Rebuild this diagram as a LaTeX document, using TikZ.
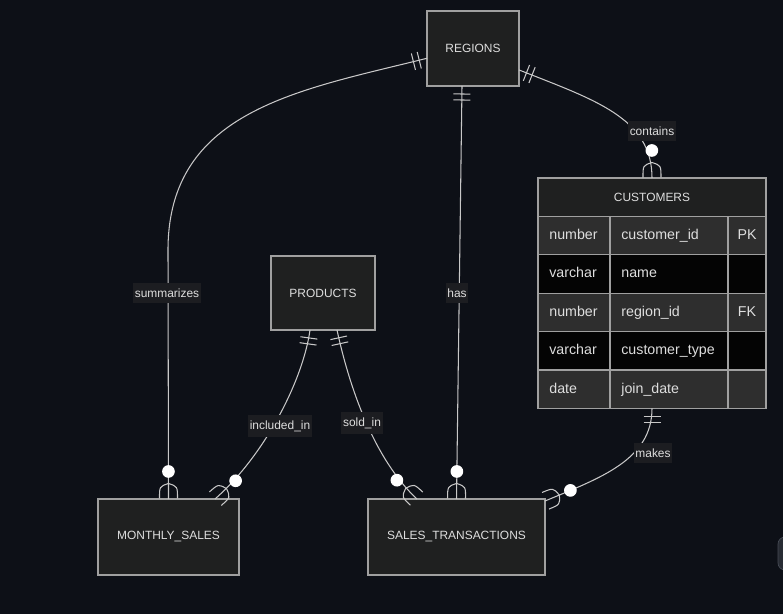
\documentclass[tikz,border=0pt]{standalone}
\usepackage{fontspec}
\setmainfont{Liberation Sans}
\usepackage{tikz}
\usetikzlibrary{calc,positioning,decorations.markings}
\newcommand{\pxu}{0.02cm}
\definecolor{bgdark}{RGB}{13,16,23}
\definecolor{boxfill}{RGB}{31,32,32}
\definecolor{boxline}{RGB}{160,160,160}
\definecolor{relline}{RGB}{200,200,200}
\definecolor{txt}{RGB}{222,222,222}
\definecolor{lblbg}{RGB}{28,29,33}
\definecolor{rowodd}{RGB}{46,46,46}
\definecolor{roweven}{RGB}{4,4,4}
\tikzstyle{entity}   = [draw=boxline, fill=boxfill, text=txt, line width=0.6pt, outer sep=0pt, font=\fontsize{6.8}{8}\selectfont]
\tikzstyle{rowbox}   = [draw=boxline, line width=0.6pt, outer sep=0pt, minimum width=228*\pxu, minimum height=38.4*\pxu]
\tikzstyle{cell}     = [text=txt, inner sep=0pt, text height=6pt, text depth=1.6pt, font=\fontsize{8.1}{9}\selectfont]
\tikzstyle{rel}      = [draw=relline, line width=0.6pt]
\tikzstyle{lbl}      = [fill=lblbg, text=txt, inner xsep=1pt, inner ysep=3pt, font=\fontsize{6.8}{8}\selectfont]
\tikzstyle{oneonly}  = [postaction={decorate, decoration={markings, mark=at position 0 with {
        \draw[relline, line width=0.6pt] (8*\pxu,-8.5*\pxu) -- (8*\pxu,8.5*\pxu) (14*\pxu,-8.5*\pxu) -- (14*\pxu,8.5*\pxu);}}}]
\tikzstyle{zeromany} = [postaction={decorate, decoration={markings, mark=at position -0.3pt with {
        \draw[relline, line width=0.6pt] (-15*\pxu,0) .. controls (-12*\pxu,9*\pxu) .. (0,9*\pxu)
                                          (-15*\pxu,0) .. controls (-12*\pxu,-9*\pxu) .. (0,-9*\pxu);
        \filldraw[fill=white, draw=white] (-27*\pxu,0) circle (5.8*\pxu);}}}]

\begin{document}
\begin{tikzpicture}[x=\pxu, y=-\pxu]
        \useasboundingbox (0,0) rectangle (783,614);
        \fill[bgdark] (0,0) rectangle (783,614);

        % entities
        \node[entity, minimum width=92*\pxu, minimum height=75*\pxu] (regions) at (473,48.5) {REGIONS};
        \node[entity, minimum width=104*\pxu, minimum height=74*\pxu] (products) at (323,293) {PRODUCTS};
        \node[entity, minimum width=141*\pxu, minimum height=76*\pxu] (monthly) at (168.5,537) {MONTHLY\_SALES};
        \node[entity, minimum width=177*\pxu, minimum height=76*\pxu] (sales) at (456.5,537) {SALES\_TRANSACTIONS};

        % customers table
        \node[entity, minimum width=228*\pxu, minimum height=38.4*\pxu] (custhead) at (652,197.2) {CUSTOMERS};
        \node[rowbox, fill=rowodd]  (cid)     at (652,235.6) {};
        \node[rowbox, fill=roweven] (cname)   at (652,274.0) {};
        \node[rowbox, fill=rowodd]  (cregion) at (652,312.4) {};
        \node[rowbox, fill=roweven] (ctype)   at (652,350.8) {};
        \node[rowbox, fill=rowodd]  (cjoin)   at (652,389.2) {};
        \draw[boxline, line width=0.6pt] (610,216.4) -- (610,408.4);
        \draw[boxline, line width=0.6pt] (728,216.4) -- (728,408.4);

        \node[cell, anchor=west] at (549,235.6) {number};
        \node[cell, anchor=west] at (621,235.6) {customer\_id};
        \node[cell] at (747,235.6) {PK};
        \node[cell, anchor=west] at (549,274.0) {varchar};
        \node[cell, anchor=west] at (621,274.0) {name};
        \node[cell, anchor=west] at (549,312.4) {number};
        \node[cell, anchor=west] at (621,312.4) {region\_id};
        \node[cell] at (747,312.4) {FK};
        \node[cell, anchor=west] at (549,350.8) {varchar};
        \node[cell, anchor=west] at (621,350.8) {customer\_type};
        \node[cell, anchor=west] at (549,389.2) {date};
        \node[cell, anchor=west] at (621,389.2) {join\_date};

        % relationships
        \draw[rel, oneonly, zeromany] (regions.-25) .. controls (595,100) and (652,118) .. (custhead.north);
        \draw[rel, oneonly, zeromany] (regions.192) .. controls (300,90) and (168,110) .. (168,250) -- (monthly.north);
        \draw[rel, oneonly, zeromany] ([xshift=-11*\pxu]regions.south) -- (sales.north);
        \draw[rel, oneonly, zeromany] ([xshift=-13*\pxu]products.south) .. controls (303,380) and (265,455) .. ([xshift=-24*\pxu]monthly.north east);
        \draw[rel, oneonly, zeromany] ([xshift=14*\pxu]products.south) .. controls (350,390) and (375,460) .. ([xshift=49*\pxu]sales.north west);
        \draw[rel, oneonly, zeromany] (cjoin.south) .. controls (652,460) and (600,478) .. ([yshift=-2*\pxu]sales.north east);

        % labels
        \node[lbl] (lcontains) at (652,131) {contains};
        \node[lbl] (lsummar)   at (167,293) {summarizes};
        \node[lbl] (lhas)      at (457,293) {has};
        \node[lbl] (lincluded) at (280,426) {included\_in};
        \node[lbl] (lsold)     at (362,423) {sold\_in};
        \node[lbl] (lmakes)    at (653,453) {makes};

        % side widget
        \draw[draw={rgb,255:red,70;green,75;blue,85}, fill={rgb,255:red,40;green,44;blue,52}, rounded corners=4pt] (778,537) rectangle (800,570);
    \end{tikzpicture}
\end{document}
